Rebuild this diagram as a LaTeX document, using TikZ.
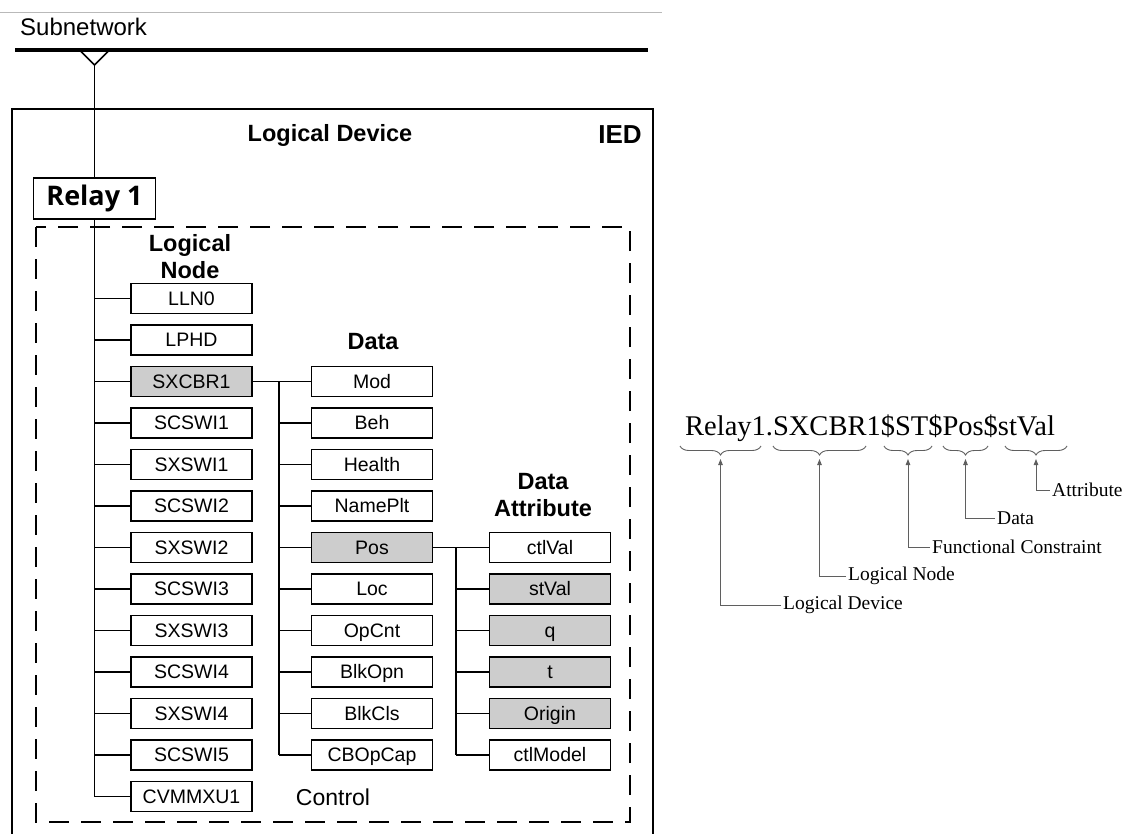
\documentclass[tikz,border=0pt]{standalone}
\usepackage{fontspec}
\setmainfont{Liberation Sans}
\newfontfamily\serifname{Liberation Serif}
\newfontfamily\relayfont{Open Sans}
\usetikzlibrary{arrows.meta,decorations.pathreplacing,calc}
\definecolor{boxgray}{RGB}{205,205,205}
\definecolor{ptrgray}{RGB}{95,95,95}
\begin{document}
\begin{tikzpicture}[x=1pt,y=-1pt,
  box/.style={draw, line width=1.6pt, fill=white, minimum width=121pt,
    minimum height=30pt, inner sep=0pt, text height=14pt, text depth=1pt,
    font=\fontsize{19.5}{21}\selectfont},
  hibox/.style={box, fill=boxgray},
  head/.style={font=\bfseries\fontsize{23.5}{27}\selectfont, align=center, inner sep=0pt},
  wire/.style={line width=1.4pt},
  lbl/.style={anchor=west, inner sep=2pt, font=\serifname\fontsize{19.5}{21}\selectfont},
  ptr/.style={draw=ptrgray, line width=0.9pt, -{Triangle[length=6pt,width=4.5pt]}},
  brc/.style={draw=ptrgray, line width=0.9pt, decorate, decoration={brace, mirror, amplitude=9pt}}
]
\useasboundingbox (0,0) rectangle (1122,833);

% bus and IED frame
\draw[gray!55, line width=0.9pt] (0,12) -- (662,12);
\node[anchor=west, inner sep=0pt, font=\fontsize{24}{26}\selectfont] (subnet) at (20,27) {Subnetwork};
\draw[line width=3.5pt] (15,50) -- (648,50);
\coordinate (apex) at (94.5,65);
\draw[line width=1.5pt] (80.5,51) -- (apex) -- (108.5,51);
\draw[line width=2.5pt] (12,850) -- (12,109) -- (653,109) -- (653,850);
\node[head] (ldhead) at (330,135) {Logical Device};
\node[head, font=\bfseries\fontsize{26}{28}\selectfont] (iedhead) at (620,135) {IED};

% logical device frame
\draw[line width=1.5pt, dash pattern=on 20pt off 12pt] (36,227) rectangle (630,822);
\node[draw, line width=1.8pt, fill=white, minimum width=122pt, minimum height=41pt,
  inner sep=0pt, font=\relayfont\bfseries\fontsize{27}{29}\selectfont] (relay) at (94.5,198.5) {Relay 1};
\draw[wire] (apex) -- (relay.north);

\node[head] (lnhead) at (190,257) {Logical\\Node};
\node[head] (dhead) at (373,342) {Data};
\node[head] (dahead) at (543,495) {Data\\Attribute};
\node[inner sep=0pt, font=\fontsize{23}{25}\selectfont] (ctrl) at (333,797) {Control};

% logical nodes
\foreach \n/\t/\s [count=\i from 0] in {lln/LLN0/box, lphd/LPHD/box, sxcbr/SXCBR1/hibox,
    scswa/SCSWI1/box, sxswa/SXSWI1/box, scswb/SCSWI2/box, sxswb/SXSWI2/box,
    scswc/SCSWI3/box, sxswc/SXSWI3/box, scswd/SCSWI4/box, sxswd/SXSWI4/box,
    scswe/SCSWI5/box, cvmmxu/CVMMXU1/box} {
  \node[\s] (\n) at (191.5,298.5+41.5*\i) {\t};
  \draw[wire] (relay.south |- \n.west) -- (\n.west);
}
\draw[wire] (relay.south) -- (relay.south |- cvmmxu.west);

% data objects
\foreach \n/\t/\s [count=\i from 0] in {mod/Mod/box, beh/Beh/box, health/Health/box,
    nameplt/NamePlt/box, pos/Pos/hibox, loc/Loc/box, opcnt/OpCnt/box,
    blkopn/BlkOpn/box, blkcls/BlkCls/box, cbopcap/CBOpCap/box} {
  \node[\s] (\n) at (372,381.5+41.5*\i) {\t};
}
\coordinate (dbus) at (279,0);
\draw[wire] (sxcbr.east) -- (mod.west);
\draw[wire] (dbus |- mod.west) -- (dbus |- cbopcap.west);
\foreach \n in {beh,health,nameplt,pos,loc,opcnt,blkopn,blkcls,cbopcap}
  \draw[wire] (dbus |- \n.west) -- (\n.west);

% data attributes
\foreach \n/\t/\s [count=\i from 0] in {ctlval/ctlVal/box, stval/stVal/hibox, q/q/hibox,
    t/t/hibox, origin/Origin/hibox, ctlmodel/ctlModel/box} {
  \node[\s] (\n) at (550,547.5+41.5*\i) {\t};
}
\coordinate (abus) at (456,0);
\draw[wire] (pos.east) -- (ctlval.west);
\draw[wire] (abus |- ctlval.west) -- (abus |- ctlmodel.west);
\foreach \n in {stval,q,t,origin,ctlmodel}
  \draw[wire] (abus |- \n.west) -- (\n.west);

% object reference and the meaning of its parts
\node[anchor=base west, inner sep=0pt, font=\serifname\fontsize{28.5}{30}\selectfont]
  (ref) at (685,435) {Relay1.SXCBR1\$ST\$Pos\$stVal};

\foreach \a/\b/\k in {680/761/A, 773/866/B, 884/932/C, 943/988/D, 1005/1067/E} {
  \draw[brc] (\a,446) -- (\b,446);
  \coordinate (tip\k) at ({(\a+\b)/2},459);
}
\node[lbl] (lattr) at (1050,490) {Attribute};
\node[lbl] (ldata) at (995,518) {Data};
\node[lbl] (lfc) at (930,547) {Functional Constraint};
\node[lbl] (lln) at (846,576) {Logical Node};
\node[lbl] (lld) at (781,605) {Logical Device};
\draw[ptr] (lattr.west) -| (tipE);
\draw[ptr] (ldata.west) -| (tipD);
\draw[ptr] (lfc.west) -| (tipC);
\draw[ptr] (lln.west) -| (tipB);
\draw[ptr] (lld.west) -| (tipA);
\end{tikzpicture}
\end{document}
